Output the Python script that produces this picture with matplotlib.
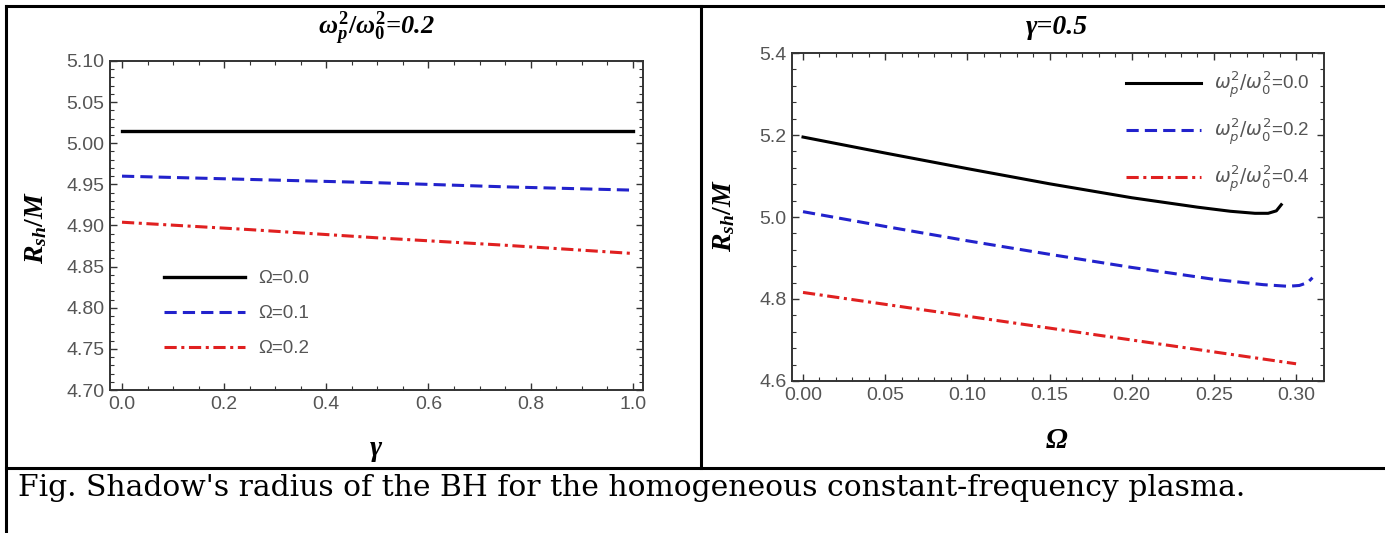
import matplotlib
matplotlib.use("Agg")
import matplotlib.pyplot as plt
from matplotlib.font_manager import FontProperties
from matplotlib.ticker import MultipleLocator
from matplotlib.lines import Line2D

plt.rcParams['mathtext.fontset'] = 'custom'
plt.rcParams['mathtext.it'] = 'Liberation Serif:italic:bold'
plt.rcParams['mathtext.rm'] = 'Liberation Serif:bold'
plt.rcParams['mathtext.bf'] = 'Liberation Serif:italic:bold'

# Left panel: R_sh/M vs gamma, omega_p^2/omega_0^2 = 0.2
gamma = [0.0, 0.25, 0.5, 0.75, 1.0]
left_black = [5.015, 5.015, 5.015, 5.015, 5.015]
left_blue = [4.960, 4.956, 4.952, 4.947, 4.943]
left_red = [4.904, 4.895, 4.885, 4.876, 4.866]
left_labels = ["Ω=0.0", "Ω=0.1", "Ω=0.2"]

# Right panel: R_sh/M vs Omega, gamma = 0.5
om_black = [0.0, 0.05, 0.10, 0.15, 0.20, 0.24, 0.26, 0.275, 0.283, 0.288, 0.291]
r_black = [5.195, 5.156, 5.118, 5.081, 5.047, 5.024, 5.014, 5.009, 5.009, 5.015, 5.030]
om_blue = [0.0, 0.05, 0.10, 0.15, 0.20, 0.25, 0.28, 0.295, 0.302, 0.307, 0.31]
r_blue = [5.013, 4.977, 4.942, 4.909, 4.877, 4.848, 4.835, 4.831, 4.833, 4.840, 4.852]
om_red = [0.0, 0.10, 0.20, 0.30]
r_red = [4.816, 4.758, 4.700, 4.642]
right_labels = [r"$\omega_p^2/\omega_0^2$=0.0", r"$\omega_p^2/\omega_0^2$=0.2",
                r"$\omega_p^2/\omega_0^2$=0.4"]

W, H = 1385, 533
fig = plt.figure(figsize=(W / 100, H / 100), dpi=100)

tick_color = "#555555"
spine_color = "#333333"
blue = "#2222cc"
red = "#e02020"
dashed = (0, (4, 2))
dashdot = (0, (4, 1.5, 1, 1.5))


def style_axes(ax, xmaj, xmin, ymaj, ymin):
    ax.xaxis.set_major_locator(MultipleLocator(xmaj))
    ax.xaxis.set_minor_locator(MultipleLocator(xmin))
    ax.yaxis.set_major_locator(MultipleLocator(ymaj))
    ax.yaxis.set_minor_locator(MultipleLocator(ymin))
    ax.tick_params(which="both", direction="in", top=True, right=True,
                   colors=spine_color, labelcolor=tick_color, labelsize=14)
    ax.tick_params(which="major", length=5, width=1, pad=4)
    ax.tick_params(which="minor", length=3, width=0.8)
    for lab in ax.get_xticklabels() + ax.get_yticklabels():
        lab.set_fontfamily("Liberation Sans")
    for s in ax.spines.values():
        s.set_color(spine_color)
        s.set_linewidth(1.4)


def px(x, y):
    return x / W, 1 - y / H


# left axes
ax1 = fig.add_axes([110 / W, 1 - 390 / H, 533 / W, 329 / H])
ax1.plot(gamma, left_black, color="black", lw=2.4, label=left_labels[0])
ax1.plot(gamma, left_blue, color=blue, lw=2.2, ls=dashed, label=left_labels[1])
ax1.plot(gamma, left_red, color=red, lw=2.2, ls=dashdot, label=left_labels[2])
ax1.set_xlim(-0.0235, 1.02)
ax1.set_ylim(4.70, 5.10)
style_axes(ax1, 0.2, 0.05, 0.05, 0.01)
ax1.yaxis.set_major_formatter(lambda v, p: f"{v:.2f}")
ax1.xaxis.set_major_formatter(lambda v, p: f"{v:.1f}")
leg1 = ax1.legend(loc="upper left", bbox_to_anchor=(0.07, 0.415), frameon=False,
                  prop=FontProperties(family="Liberation Sans", size=13.5),
                  handlelength=4.3, labelspacing=0.95, handletextpad=0.7)
for t in leg1.get_texts():
    t.set_color(tick_color)

# right axes
ax2 = fig.add_axes([792 / W, 1 - 381 / H, 532 / W, 328 / H])
ax2.plot(om_black, r_black, color="black", lw=2.2, label=right_labels[0])
ax2.plot(om_blue, r_blue, color=blue, lw=2.2, ls=dashed, label=right_labels[1])
ax2.plot(om_red, r_red, color=red, lw=2.2, ls=dashdot, label=right_labels[2])
ax2.set_xlim(-0.0067, 0.317)
ax2.set_ylim(4.6, 5.4)
style_axes(ax2, 0.05, 0.01, 0.2, 0.04)
ax2.yaxis.set_major_formatter(lambda v, p: f"{v:.1f}")
ax2.xaxis.set_major_formatter(lambda v, p: f"{v:.2f}")
leg2 = ax2.legend(loc="upper right", bbox_to_anchor=(1.005, 1.0), frameon=False,
                  prop=FontProperties(family="Liberation Sans", size=13.5,
                                      math_fontfamily="dejavusans"),
                  handlelength=4.0, labelspacing=0.9, handletextpad=0.7)
for t in leg2.get_texts():
    t.set_color(tick_color)

# titles and axis labels
serif_bi = dict(fontfamily="Liberation Serif", fontweight="bold", fontstyle="italic",
                ha="center", va="center")
fig.text(*px(376, 28), r"$\omega_p^2/\omega_0^2$=0.2", fontsize=19, **serif_bi)
fig.text(*px(1057, 28), "γ=0.5", fontsize=20, **serif_bi)
fig.text(*px(36, 228), r"$R_{sh}/M$", fontsize=20, rotation=90, **serif_bi)
fig.text(*px(724, 216), r"$R_{sh}/M$", fontsize=20, rotation=90, **serif_bi)
fig.text(*px(376, 448), "γ", fontsize=21, **serif_bi)
fig.text(*px(1057, 440), "Ω", fontsize=21, **serif_bi)

# table borders
lw = 2.2
fig.add_artist(Line2D([6 / W, 1], [1 - 6 / H, 1 - 6 / H], color="black", lw=lw))
fig.add_artist(Line2D([6 / W, 6 / W], [0, 1 - 6 / H], color="black", lw=lw))
fig.add_artist(Line2D([701 / W, 701 / W], [1 - 468 / H, 1 - 6 / H], color="black", lw=lw))
fig.add_artist(Line2D([6 / W, 1], [1 - 468 / H, 1 - 468 / H], color="black", lw=lw))

fig.text(*px(18, 488),
         "Fig. Shadow's radius of the BH for the homogeneous constant-frequency plasma.",
         fontfamily="DejaVu Serif", fontsize=21.4, va="center", ha="left")

fig.savefig("out.png", dpi=100)
